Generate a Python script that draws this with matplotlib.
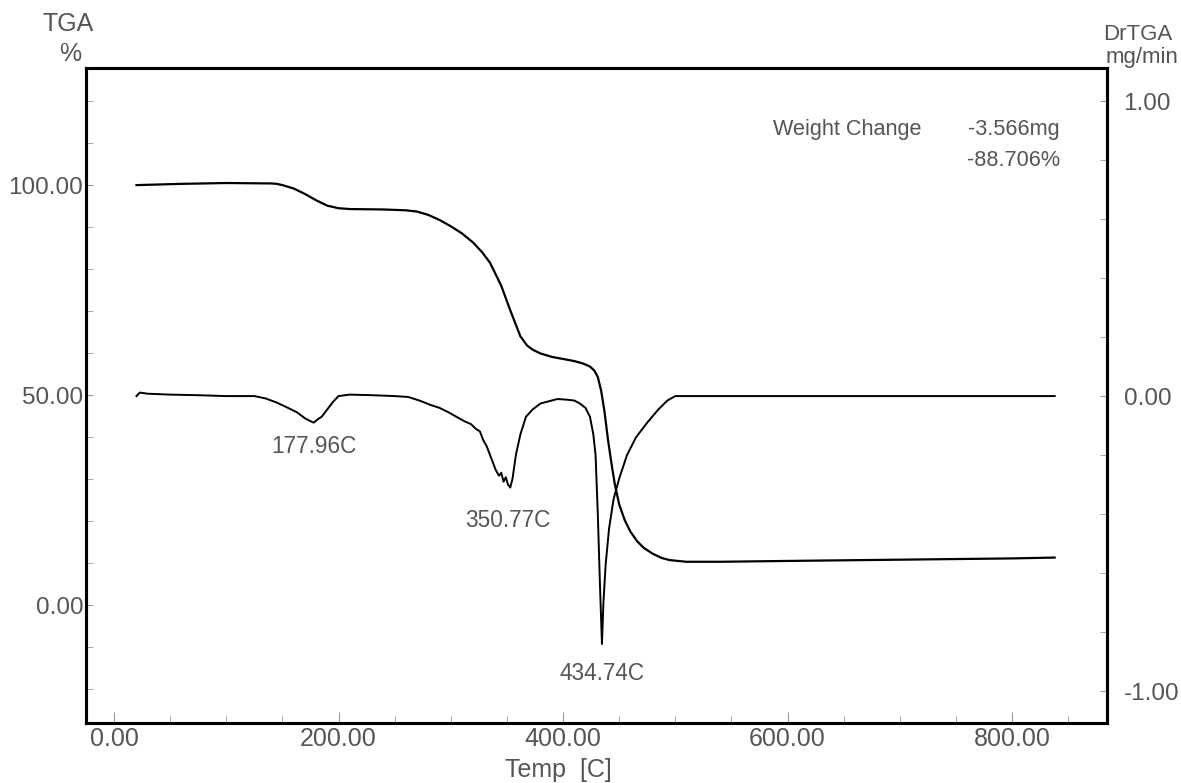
import matplotlib
matplotlib.use('Agg')
import matplotlib.pyplot as plt
from matplotlib.ticker import MultipleLocator, FormatStrFormatter

plt.rcParams['font.family'] = ['Liberation Sans', 'DejaVu Sans']

# TGA curve (left axis, %)
tga_temp = [20, 60, 100, 140, 145, 150, 160, 170, 180, 190, 200, 210, 240, 260, 270,
            280, 290, 300, 310, 320, 328, 335, 345, 353, 362, 368, 373, 380, 390, 400,
            410, 418, 424, 428, 431, 434, 437, 440, 443, 446, 450, 455, 460, 466, 472,
            480, 488, 495, 510, 540, 600, 700, 800, 838]
tga_pct = [100.0, 100.3, 100.5, 100.4, 100.3, 100.0, 99.2, 97.9, 96.4, 95.1, 94.5, 94.3, 94.2, 94.0, 93.7,
           92.9, 91.7, 90.2, 88.5, 86.3, 84.0, 81.5, 76.0, 70.2, 64.0, 61.8, 60.8, 59.9, 59.1, 58.6,
           58.1, 57.5, 56.8, 55.8, 54.3, 51.0, 46.0, 39.5, 34.0, 29.0, 24.0, 20.2, 17.5, 15.2, 13.6,
           12.2, 11.2, 10.7, 10.3, 10.3, 10.5, 10.8, 11.1, 11.3]

# DrTGA curve (right axis, mg/min)
dtg_temp = [20, 23, 30, 50, 75, 100, 125, 135, 145, 155, 163, 170, 175, 178, 181,
            185, 190, 195, 200, 210, 230, 250, 262, 272, 282, 290, 298, 305, 312, 318,
            322, 326, 329, 332, 335, 338, 340, 343, 345, 347, 349, 351, 353, 355, 358,
            362, 367, 373, 380, 388, 395, 403, 410, 415, 420, 424, 427, 429, 431, 433,
            434.7, 436, 438, 441, 445, 450, 457, 465, 475, 485, 493, 500, 520, 600, 700,
            800, 838]
dtg_val = [0.0, 0.012, 0.008, 0.005, 0.003, 0.0, 0.0, -0.008, -0.022, -0.04, -0.055, -0.075, -0.085, -0.09, -0.08,
           -0.07, -0.045, -0.02, 0.0, 0.005, 0.003, 0.0, -0.003, -0.015, -0.03, -0.04, -0.055, -0.07, -0.085, -0.095,
           -0.11, -0.12, -0.15, -0.17, -0.2, -0.23, -0.25, -0.27, -0.26, -0.29, -0.275, -0.3, -0.31, -0.28, -0.2,
           -0.13, -0.07, -0.045, -0.025, -0.017, -0.01, -0.012, -0.015, -0.025, -0.04, -0.07, -0.13, -0.2, -0.4, -0.65,
           -0.84, -0.7, -0.57, -0.45, -0.35, -0.28, -0.2, -0.14, -0.09, -0.045, -0.015, 0.0, 0.0, 0.0, 0.0,
           0.0, 0.0]

peak_temps = [177.96, 350.77, 434.74]
peak_labels = ['177.96C', '350.77C', '434.74C']
peak_label_y = [-0.17, -0.42, -0.94]

txt_col = '#555555'
tick_col = '#9a9a9a'

fig = plt.figure(figsize=(11.81, 7.83), dpi=100)
ax = fig.add_axes([0.0728, 0.0766, 0.8645, 0.8366])
ax2 = ax.twinx()

ax.plot(tga_temp, tga_pct, color='black', lw=1.6)
ax2.plot(dtg_temp, dtg_val, color='black', lw=1.4)

ax.set_xlim(-25, 884.6)
ax.set_ylim(-28.1, 127.9)
ax2.set_ylim(-1.108, 1.112)

ax.xaxis.set_major_locator(MultipleLocator(200))
ax.xaxis.set_minor_locator(MultipleLocator(50))
ax.yaxis.set_major_locator(MultipleLocator(50))
ax.yaxis.set_minor_locator(MultipleLocator(10))
ax2.yaxis.set_major_locator(MultipleLocator(1))
ax2.yaxis.set_minor_locator(MultipleLocator(0.2))
ax.xaxis.set_major_formatter(FormatStrFormatter('%.2f'))
ax.yaxis.set_major_formatter(FormatStrFormatter('%.2f'))
ax2.yaxis.set_major_formatter(FormatStrFormatter('%.2f'))

ax.tick_params(axis='x', which='major', direction='in', length=8, color=tick_col,
               labelsize=18, labelcolor=txt_col, pad=3)
ax.tick_params(axis='x', which='minor', direction='in', length=5, color=tick_col)
ax.tick_params(axis='y', which='both', direction='in', length=5, color=tick_col,
               labelsize=17.5, labelcolor=txt_col, pad=2)
ax2.tick_params(axis='y', which='both', direction='in', length=5, color=tick_col,
                labelsize=17.5, labelcolor=txt_col, pad=12)

for a in (ax, ax2):
    for s in a.spines.values():
        s.set_linewidth(2.2)
        s.set_color('black')

for t, lab, yy in zip(peak_temps, peak_labels, peak_label_y):
    ax2.text(t, yy, lab, ha='center', va='center', fontsize=16.3, color=txt_col)

fig.text(773 / 1181, 1 - 130 / 783, 'Weight Change', ha='left', va='center', fontsize=15.6, color=txt_col)
fig.text(1060 / 1181, 1 - 130 / 783, '-3.566mg', ha='right', va='center', fontsize=15.6, color=txt_col)
fig.text(1060 / 1181, 1 - 160 / 783, '-88.706%', ha='right', va='center', fontsize=15.6, color=txt_col)

fig.text(68 / 1181, 1 - 24 / 783, 'TGA', ha='center', va='center', fontsize=18, color=txt_col)
fig.text(70 / 1181, 1 - 54 / 783, '%', ha='center', va='center', fontsize=18, color=txt_col)
fig.text(1138 / 1181, 1 - 34 / 783, 'DrTGA', ha='center', va='center', fontsize=16, color=txt_col)
fig.text(1142 / 1181, 1 - 57 / 783, 'mg/min', ha='center', va='center', fontsize=16, color=txt_col)
fig.text(558 / 1181, 1 - 770 / 783, 'Temp  [C]', ha='center', va='center', fontsize=18, color=txt_col)

fig.savefig('out.png', dpi=100)
